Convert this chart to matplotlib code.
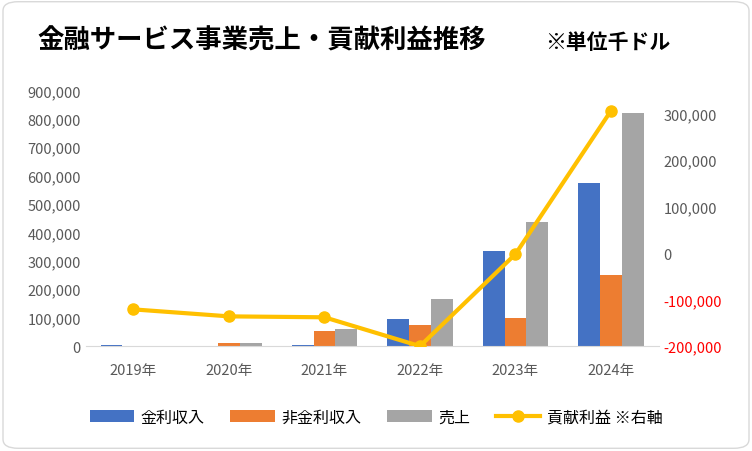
import matplotlib.pyplot as plt
import numpy as np
from matplotlib.patches import FancyBboxPatch

plt.rcParams['font.family'] = ['Noto Sans CJK JP', 'DejaVu Sans']

years = ['2019年', '2020年', '2021年', '2022年', '2023年', '2024年']
kinri = [3000, 0, 3000, 95000, 335000, 575000]
hikinri = [0, 10000, 55000, 75000, 100000, 250000]
uriage = [2000, 10000, 60000, 167000, 436000, 820000]
koken = [-121000, -136000, -138000, -200000, -2000, 306000]

fig = plt.figure(figsize=(7.52, 4.52), dpi=100)
fig.patches.append(FancyBboxPatch((0.004, 0.006), 0.992, 0.988, boxstyle="round,pad=0,rounding_size=0.02",
                                  transform=fig.transFigure, fill=False, edgecolor='#d9d9d9', linewidth=1))
ax = fig.add_axes([0.114, 0.232, 0.762, 0.566])
x = np.arange(len(years))
w = 0.23
ax.bar(x - w, kinri, w, color='#4472C4', label='金利収入')
ax.bar(x, hikinri, w, color='#ED7D31', label='非金利収入')
ax.bar(x + w, uriage, w, color='#A5A5A5', label='売上')
ax.set_ylim(0, 900000)
ax.set_yticks(range(0, 900001, 100000))
ax.set_yticklabels([f'{v:,}' for v in range(0, 900001, 100000)])
ax.set_xticks(x)
ax.set_xticklabels(years)
ax.set_xlim(-0.5, 5.5)
for s in ['top', 'right', 'left']:
    ax.spines[s].set_visible(False)
ax.spines['bottom'].set_color('#d9d9d9')
ax.tick_params(length=0, colors='#595959', labelsize=10.5)
ax.tick_params(axis='x', pad=12)

ax2 = ax.twinx()
ax2.plot(x, koken, color='#FFC000', linewidth=3, marker='o', markersize=8, label='貢献利益 ※右軸')
ax2.set_ylim(-200000, 350000)
rt = list(range(-200000, 300001, 100000))
ax2.set_yticks(rt)
ax2.set_yticklabels([f'{v:,}' if v != 0 else '0' for v in rt])
for lab, v in zip(ax2.get_yticklabels(), rt):
    lab.set_color('#FF0000' if v < 0 else '#595959')
for s in ax2.spines.values():
    s.set_visible(False)
ax2.tick_params(length=0, labelsize=10.5)

fig.text(0.05, 0.91, '金融サービス事業売上・貢献利益推移', fontsize=19, fontweight='bold', va='center')
fig.text(0.725, 0.905, '※単位千ドル', fontsize=15, fontweight='bold', va='center')

h1, l1 = ax.get_legend_handles_labels()
h2, l2 = ax2.get_legend_handles_labels()
fig.legend(h1 + h2, l1 + l2, loc='center', bbox_to_anchor=(0.5, 0.075), ncol=4,
           frameon=False, fontsize=11.5, handlelength=2.8, handletextpad=0.4, columnspacing=1.6)
fig.savefig('out.png')
